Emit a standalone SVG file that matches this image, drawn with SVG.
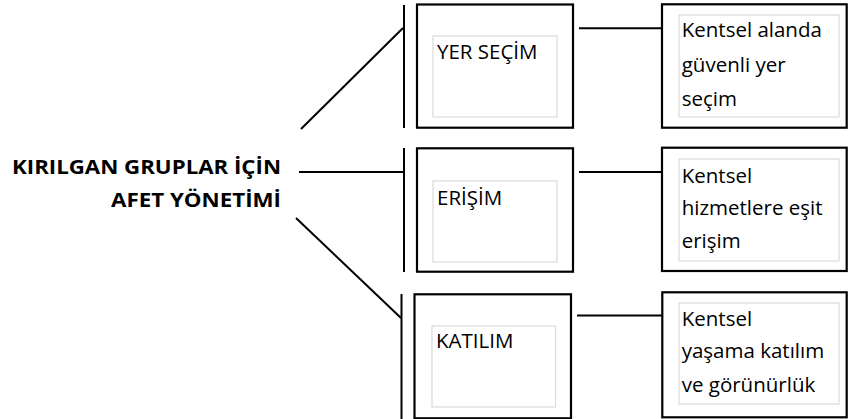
<svg xmlns="http://www.w3.org/2000/svg" width="848" height="419" viewBox="0 0 848 419">
<style>
.ln{stroke:#000;stroke-width:2;fill:none}
.box{stroke:#000;stroke-width:2.2;fill:#fff}
.inner{stroke:#dadada;stroke-width:1.2;fill:none}
.t{font-family:"Open Sans","Noto Sans",sans-serif;font-size:20.5px;fill:#000}
.title{font-family:"Open Sans","Noto Sans",sans-serif;font-size:20px;font-weight:bold;fill:#000}
</style>
<rect width="848" height="419" fill="#fff"/>
<g id="connectors">
<line class="ln" x1="301" y1="129" x2="403" y2="28"/>
<line class="ln" x1="299" y1="172" x2="403" y2="172"/>
<line class="ln" x1="296" y1="218" x2="401" y2="318"/>
<line class="ln" x1="404" y1="5" x2="404" y2="128"/>
<line class="ln" x1="404" y1="148" x2="404" y2="272"/>
<line class="ln" x1="401.5" y1="294" x2="401.5" y2="419"/>
<line class="ln" x1="579" y1="28.3" x2="662" y2="28.3"/>
<line class="ln" x1="579" y1="172" x2="662" y2="172"/>
<line class="ln" x1="577" y1="315.5" x2="662" y2="315.5"/>
</g>
<g id="title">
<text class="title" x="281" y="174.3" text-anchor="end" textLength="269" lengthAdjust="spacingAndGlyphs">KIRILGAN GRUPLAR İÇİN</text>
<text class="title" x="281" y="206.7" text-anchor="end" textLength="170" lengthAdjust="spacingAndGlyphs">AFET YÖNETİMİ</text>
</g>
<g id="yer-secim">
<rect class="box" x="417" y="4.5" width="156" height="123.2"/>
<rect class="inner" x="433" y="36" width="124" height="81"/>
<text class="t" x="437" y="59">YER SEÇİM</text>
</g>
<g id="erisim">
<rect class="box" x="417" y="148.3" width="156" height="123.4"/>
<rect class="inner" x="433" y="181" width="124" height="81"/>
<text class="t" x="437" y="205">ERİŞİM</text>
</g>
<g id="katilim">
<rect class="box" x="414.5" y="294.3" width="156.5" height="124"/>
<rect class="inner" x="432" y="326" width="123.5" height="81"/>
<text class="t" x="436" y="347.7">KATILIM</text>
</g>
<g id="desc-yer">
<rect class="box" x="662" y="4.3" width="184.7" height="123.4"/>
<rect class="inner" x="679" y="15" width="160" height="102"/>
<text class="t" x="681.7" y="36.7">Kentsel alanda</text>
<text class="t" x="681.7" y="71.5">güvenli yer</text>
<text class="t" x="681.7" y="106">seçim</text>
</g>
<g id="desc-erisim">
<rect class="box" x="662" y="147.7" width="184.7" height="123.3"/>
<rect class="inner" x="679" y="159" width="160" height="102"/>
<text class="t" x="681.7" y="182.7">Kentsel</text>
<text class="t" x="681.7" y="215">hizmetlere eşit</text>
<text class="t" x="681.7" y="248.3">erişim</text>
</g>
<g id="desc-katilim">
<rect class="box" x="662.3" y="292.3" width="184.4" height="125"/>
<rect class="inner" x="679" y="303" width="160" height="101"/>
<text class="t" x="681.7" y="325.7">Kentsel</text>
<text class="t" x="681.7" y="357.7">yaşama katılım</text>
<text class="t" x="681.7" y="392">ve görünürlük</text>
</g>
</svg>
